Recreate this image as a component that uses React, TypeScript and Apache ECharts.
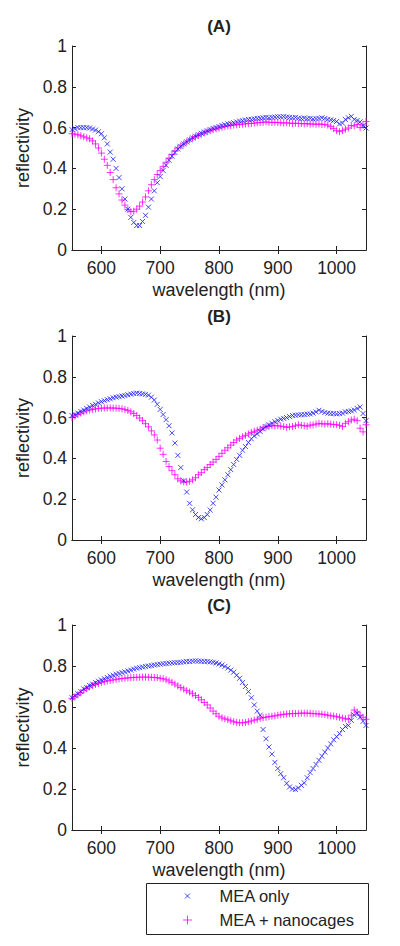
import React, { useEffect, useRef } from "react";
import * as echarts from "echarts";

// wavelengths (nm)
const wavelengths = [
  550, 555, 560, 565, 570, 575, 580, 585, 590, 595,
  600, 605, 610, 615, 620, 625, 630, 635, 640, 645,
  650, 655, 660, 665, 670, 675, 680, 685, 690, 695,
  700, 705, 710, 715, 720, 725, 730, 735, 740, 745,
  750, 755, 760, 765, 770, 775, 780, 785, 790, 795,
  800, 805, 810, 815, 820, 825, 830, 835, 840, 845,
  850, 855, 860, 865, 870, 875, 880, 885, 890, 895,
  900, 905, 910, 915, 920, 925, 930, 935, 940, 945,
  950, 955, 960, 965, 970, 975, 980, 985, 990, 995,
  1000, 1005, 1010, 1015, 1020, 1025, 1030, 1035, 1040, 1045,
  1050,
];

// Panel A
const aMeaOnly = [
  0.59, 0.595, 0.6, 0.6, 0.6, 0.6, 0.598, 0.593, 0.588, 0.58,
  0.57, 0.55, 0.52, 0.48, 0.445, 0.4, 0.355, 0.3, 0.25, 0.2,
  0.16, 0.135, 0.12, 0.12, 0.14, 0.17, 0.21, 0.25, 0.29, 0.33,
  0.36, 0.39, 0.415, 0.44, 0.46, 0.478, 0.495, 0.508, 0.52, 0.53,
  0.54, 0.55, 0.558, 0.565, 0.572, 0.578, 0.584, 0.59, 0.596, 0.6,
  0.605, 0.61, 0.614, 0.618, 0.62, 0.624, 0.628, 0.632, 0.634, 0.637,
  0.64, 0.64, 0.643, 0.645, 0.646, 0.648, 0.65, 0.648, 0.65, 0.652,
  0.653, 0.652, 0.654, 0.652, 0.65, 0.648, 0.65, 0.646, 0.645, 0.647,
  0.644, 0.645, 0.642, 0.644, 0.645, 0.648, 0.645, 0.64, 0.638, 0.635,
  0.63, 0.618, 0.622, 0.64, 0.648, 0.655, 0.64, 0.635, 0.628, 0.61,
  0.598,
];
const aNanocages = [
  0.57, 0.568, 0.565, 0.56, 0.555, 0.55, 0.545, 0.535, 0.52, 0.5,
  0.475, 0.445, 0.415, 0.38, 0.345, 0.305, 0.275, 0.245, 0.22, 0.198,
  0.188, 0.19, 0.2, 0.215, 0.235, 0.26, 0.29, 0.32, 0.345, 0.37,
  0.39, 0.41, 0.43, 0.45, 0.468, 0.485, 0.5, 0.51, 0.52, 0.53,
  0.54, 0.548, 0.555, 0.562, 0.568, 0.574, 0.58, 0.585, 0.59, 0.594,
  0.598, 0.602, 0.605, 0.608, 0.61, 0.612, 0.614, 0.615, 0.617, 0.618,
  0.62, 0.62, 0.622, 0.624, 0.625, 0.626, 0.628, 0.626, 0.625, 0.626,
  0.625, 0.624, 0.622, 0.624, 0.622, 0.62, 0.622, 0.62, 0.62, 0.618,
  0.62, 0.617, 0.618, 0.616, 0.618, 0.615, 0.616, 0.612, 0.605, 0.595,
  0.585, 0.58, 0.585, 0.592, 0.598, 0.61, 0.608, 0.615, 0.6, 0.612,
  0.63,
];

// Panel B
const bMeaOnly = [
  0.61, 0.615, 0.622, 0.63, 0.637, 0.645, 0.652, 0.66, 0.665, 0.672,
  0.678, 0.683, 0.688, 0.692, 0.697, 0.7, 0.703, 0.706, 0.708, 0.712,
  0.715, 0.718, 0.72, 0.718, 0.716, 0.714, 0.71, 0.7, 0.686, 0.665,
  0.64, 0.615, 0.59, 0.56, 0.525, 0.475, 0.415, 0.355, 0.29, 0.235,
  0.18, 0.148, 0.125, 0.11, 0.104, 0.11, 0.125, 0.147, 0.18, 0.21,
  0.245, 0.27, 0.295, 0.32, 0.345, 0.37, 0.395, 0.415, 0.44, 0.458,
  0.478, 0.496, 0.51, 0.52, 0.532, 0.545, 0.556, 0.565, 0.572, 0.58,
  0.586, 0.592, 0.596, 0.6, 0.605, 0.61, 0.612, 0.613, 0.614, 0.615,
  0.617, 0.618, 0.622, 0.628, 0.636, 0.63, 0.625, 0.622, 0.62, 0.62,
  0.618, 0.62, 0.622, 0.628, 0.63, 0.633, 0.637, 0.645, 0.652, 0.62,
  0.585,
];
const bNanocages = [
  0.6, 0.608, 0.615, 0.622, 0.628, 0.633, 0.637, 0.64, 0.643, 0.645,
  0.646, 0.647, 0.647, 0.647, 0.647, 0.646, 0.645, 0.643, 0.64, 0.635,
  0.628, 0.62, 0.61, 0.598, 0.585, 0.57, 0.555, 0.535, 0.515, 0.49,
  0.45, 0.42, 0.385, 0.36, 0.34, 0.32, 0.3, 0.29, 0.285, 0.284,
  0.288, 0.295, 0.305, 0.32, 0.33, 0.345, 0.355, 0.37, 0.382, 0.395,
  0.41, 0.425, 0.44, 0.452, 0.465, 0.478, 0.49, 0.498, 0.506, 0.513,
  0.52, 0.527, 0.533, 0.538, 0.543, 0.55, 0.555, 0.557, 0.56, 0.56,
  0.56, 0.558, 0.556, 0.552, 0.555, 0.556, 0.56, 0.565, 0.562, 0.56,
  0.558, 0.563, 0.564, 0.568, 0.572, 0.57, 0.568, 0.57, 0.568, 0.566,
  0.565, 0.562, 0.556, 0.572, 0.58, 0.588, 0.592, 0.585, 0.548, 0.53,
  0.565,
];

// Panel C
const cMeaOnly = [
  0.645, 0.655, 0.665, 0.675, 0.688, 0.695, 0.705, 0.712, 0.72, 0.726,
  0.732, 0.738, 0.744, 0.75, 0.755, 0.76, 0.764, 0.768, 0.772, 0.776,
  0.78, 0.785, 0.789, 0.792, 0.795, 0.798, 0.8, 0.802, 0.805, 0.807,
  0.809, 0.811, 0.812, 0.814, 0.815, 0.816, 0.817, 0.818, 0.82, 0.822,
  0.822, 0.824, 0.825, 0.824, 0.823, 0.822, 0.822, 0.82, 0.818, 0.815,
  0.81, 0.805, 0.798, 0.79, 0.78, 0.77, 0.755, 0.74, 0.72, 0.7,
  0.675, 0.645, 0.61, 0.58, 0.56, 0.49, 0.445, 0.405, 0.37, 0.33,
  0.3, 0.275, 0.255, 0.228, 0.21, 0.2, 0.198, 0.205, 0.218, 0.23,
  0.255, 0.28, 0.3, 0.32, 0.34, 0.36, 0.38, 0.4, 0.42, 0.44,
  0.455, 0.47, 0.49, 0.505, 0.51, 0.535, 0.56, 0.57, 0.55, 0.53,
  0.51,
];
const cNanocages = [
  0.642, 0.65, 0.66, 0.67, 0.682, 0.69, 0.698, 0.705, 0.71, 0.715,
  0.72, 0.724, 0.727, 0.73, 0.732, 0.735, 0.737, 0.739, 0.74, 0.742,
  0.743, 0.744, 0.745, 0.745, 0.746, 0.746, 0.745, 0.745, 0.744, 0.743,
  0.74, 0.738, 0.733, 0.727, 0.72, 0.712, 0.703, 0.695, 0.688, 0.68,
  0.673, 0.665, 0.656, 0.647, 0.635, 0.622, 0.61, 0.595, 0.58, 0.567,
  0.555, 0.547, 0.542, 0.538, 0.533, 0.528, 0.525, 0.523, 0.523, 0.525,
  0.528, 0.532, 0.536, 0.54, 0.545, 0.548, 0.55, 0.553, 0.555, 0.557,
  0.56, 0.562, 0.564, 0.566, 0.567, 0.568, 0.568, 0.569, 0.57, 0.57,
  0.57, 0.569, 0.568, 0.567, 0.566, 0.565, 0.563, 0.56, 0.557, 0.556,
  0.553, 0.55, 0.546, 0.543, 0.54, 0.56, 0.585, 0.575, 0.56, 0.55,
  0.54,
];

const panelTitles = ["(A)", "(B)", "(C)"];
const seriesNames = ["MEA only", "MEA + nanocages"];
const xTickValues = [600, 700, 800, 900, 1000];
const panelData = [
  [aMeaOnly, aNanocages],
  [bMeaOnly, bNanocages],
  [cMeaOnly, cNanocages],
];

const FONT = "Liberation Sans, Arial, Helvetica, sans-serif";
const TXT = "#222";
const BLUE = "#1a1aff";
const MAGENTA = "#ff00ff";
const X_ICON = "path://M0,0L10,10M0,10L10,0";
const PLUS_ICON = "path://M5,0L5,10M0,5L10,5";

const gridTops = [46, 336, 625];
const gridHeights = [204, 204, 205];
const titleTops = [18, 308, 597];

export default function App() {
  const ref = useRef<HTMLDivElement>(null);
  useEffect(() => {
    document.body.style.margin = "0";
    if (!ref.current) return;
    const chart = echarts.init(ref.current, undefined, { renderer: "svg" });

    const grids: any[] = [];
    const xAxes: any[] = [];
    const yAxes: any[] = [];
    const series: any[] = [];
    const titles: any[] = [];

    panelTitles.forEach((t, i) => {
      grids.push({ left: 72, width: 294, top: gridTops[i], height: gridHeights[i], containLabel: false });
      titles.push({
        text: t,
        left: 219,
        top: titleTops[i],
        textAlign: "center",
        padding: 0,
        textStyle: { fontFamily: FONT, fontSize: 17, fontWeight: "bold", color: TXT },
      });
      const axisLine = { show: true, lineStyle: { color: TXT, width: 1 } };
      xAxes.push({
        gridIndex: i,
        type: "value",
        position: "bottom",
        min: 550,
        max: 1050,
        axisLine,
        axisTick: { show: true, inside: true, length: 4, customValues: xTickValues, lineStyle: { color: TXT } },
        axisLabel: {
          show: true,
          customValues: xTickValues,
          formatter: (v: number) => String(v),
          margin: 9,
          fontSize: 17.5,
          fontFamily: FONT,
          color: TXT,
        },
        splitLine: { show: false },
        name: "wavelength (nm)",
        nameLocation: "middle",
        nameGap: 31,
        nameTextStyle: { fontSize: 18, fontFamily: FONT, color: TXT },
      });
      xAxes.push({
        gridIndex: i,
        type: "value",
        position: "top",
        min: 550,
        max: 1050,
        axisLine,
        axisTick: { show: true, inside: true, length: 4, customValues: xTickValues, lineStyle: { color: TXT } },
        axisLabel: { show: false },
        splitLine: { show: false },
      });
      yAxes.push({
        gridIndex: i,
        type: "value",
        position: "left",
        min: 0,
        max: 1,
        interval: 0.2,
        axisLine,
        axisTick: { show: true, inside: true, length: 4, lineStyle: { color: TXT } },
        axisLabel: { show: true, margin: 5, fontSize: 17.5, fontFamily: FONT, color: TXT },
        splitLine: { show: false },
        name: "reflectivity",
        nameLocation: "middle",
        nameGap: 36,
        nameRotate: 90,
        nameTextStyle: { fontSize: 18, fontFamily: FONT, color: TXT },
      });
      yAxes.push({
        gridIndex: i,
        type: "value",
        position: "right",
        min: 0,
        max: 1,
        interval: 0.2,
        axisLine,
        axisTick: { show: true, inside: true, length: 4, lineStyle: { color: TXT } },
        axisLabel: { show: false },
        splitLine: { show: false },
      });
      const [blueVals, pinkVals] = panelData[i];
      series.push({
        type: "scatter",
        name: seriesNames[0],
        xAxisIndex: i * 2,
        yAxisIndex: i * 2,
        symbol: X_ICON,
        symbolSize: 5,
        itemStyle: { color: "transparent", borderColor: BLUE, borderWidth: 1 },
        data: wavelengths.map((w, k) => [w, blueVals[k]]),
        z: 3,
      });
      series.push({
        type: "scatter",
        name: seriesNames[1],
        xAxisIndex: i * 2,
        yAxisIndex: i * 2,
        symbol: PLUS_ICON,
        symbolSize: 7,
        itemStyle: { color: "transparent", borderColor: MAGENTA, borderWidth: 1 },
        data: wavelengths.map((w, k) => [w, pinkVals[k]]),
        z: 2,
      });
    });

    const legendText = { fontSize: 16.5, fontFamily: FONT, color: TXT, lineHeight: 18 };
    const option: any = {
      animation: false,
      backgroundColor: "#ffffff",
      title: titles,
      grid: grids,
      xAxis: xAxes,
      yAxis: yAxes,
      series,
      legend: [
        {
          left: 184.5,
          top: 887,
          padding: 0,
          align: "left",
          itemWidth: 54,
          itemHeight: 5,
          selectedMode: false,
          textStyle: legendText,
          itemStyle: { color: "transparent", borderColor: BLUE, borderWidth: 1 },
          data: [
            {
              name: seriesNames[0],
              icon: X_ICON,
              itemStyle: { color: "transparent", borderColor: BLUE, borderWidth: 1 },
            },
          ],
        },
        {
          left: 182.5,
          top: 911,
          padding: 0,
          align: "left",
          itemWidth: 54,
          itemHeight: 9,
          selectedMode: false,
          textStyle: legendText,
          itemStyle: { color: "transparent", borderColor: MAGENTA, borderWidth: 1 },
          data: [
            {
              name: seriesNames[1],
              icon: PLUS_ICON,
              itemStyle: { color: "transparent", borderColor: MAGENTA, borderWidth: 1 },
            },
          ],
        },
      ],
      graphic: [
        {
          type: "rect",
          left: 144,
          top: 881,
          shape: { width: 222, height: 51 },
          style: { fill: "none", stroke: TXT, lineWidth: 1 },
          z: -1,
        },
      ],
    };
    chart.setOption(option);
    return () => chart.dispose();
  }, []);
  return <div ref={ref} style={{ width: 400, height: 946 }} />;
}
